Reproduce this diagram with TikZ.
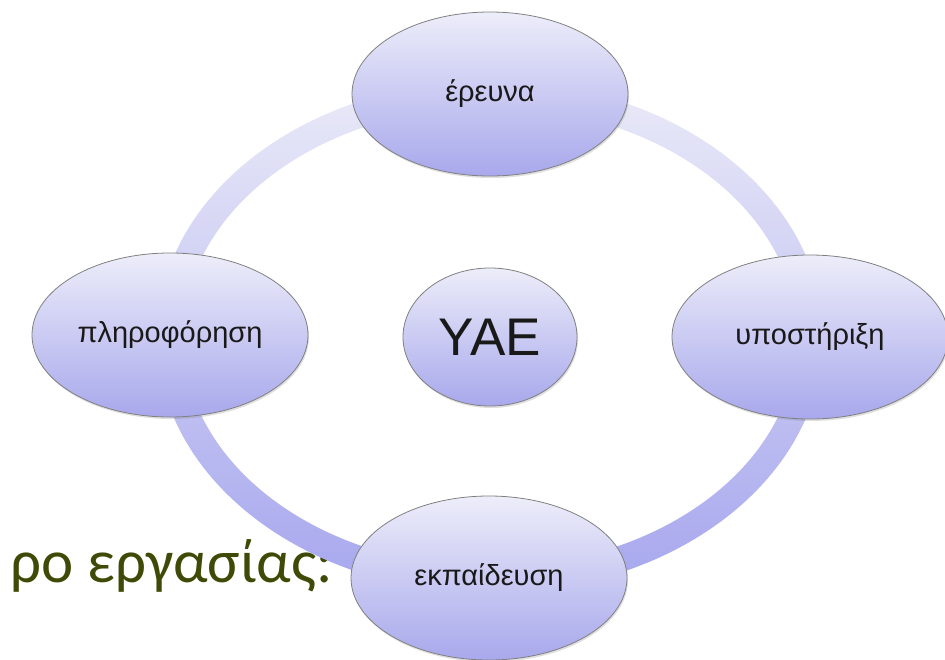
\documentclass[tikz,border=0pt]{standalone}
\usepackage{fontspec}
\setmainfont{Liberation Sans}
\newfontfamily\slidefont{Carlito}
\usetikzlibrary{shapes.geometric,shadows}
\definecolor{ringtop}{RGB}{234,234,248}
\definecolor{ringbot}{RGB}{166,166,238}
\definecolor{bubbletop}{RGB}{237,237,250}
\definecolor{bubblebot}{RGB}{168,168,236}
\definecolor{olivetext}{RGB}{62,74,6}
\begin{document}
\begin{tikzpicture}[x=1pt, y=-1pt,
    bubble/.style={ellipse, draw=black!50, line width=0.8pt, top color=bubbletop, bottom color=bubblebot,
        minimum width=276pt, minimum height=164pt, inner sep=0pt, text=black!90,
        font=\fontsize{29}{34}\selectfont,
        drop shadow={opacity=0.25, shadow xshift=1pt, shadow yshift=-2pt}},
    hub/.style={bubble, minimum width=174pt, minimum height=138pt, font=\fontsize{53}{62}\selectfont}]
    \useasboundingbox (0,0) rectangle (945,659);
    % title of the slide
    \node[anchor=base east, inner sep=0pt, text=olivetext, font=\slidefont\fontsize{61}{72}\selectfont] (title) at (333,582) {ρο εργασίας:};
    % the ring
    \shade[top color=ringtop, bottom color=ringbot, even odd rule]
        (490,337) ellipse [x radius=333, y radius=256]
        (490,337) ellipse [x radius=307, y radius=230];
    % the four ellipses on the ring
    \node[bubble] (research) at (490,94) {έρευνα};
    \node[bubble] (info) at (170,335) {πληροφόρηση};
    \node[bubble] (support) at (810,337) {υποστήριξη};
    \node[bubble] (training) at (489,578) {εκπαίδευση};
    % centre
    \node[hub] (yae) at (490,337) {ΥΑΕ};
\end{tikzpicture}
\end{document}
